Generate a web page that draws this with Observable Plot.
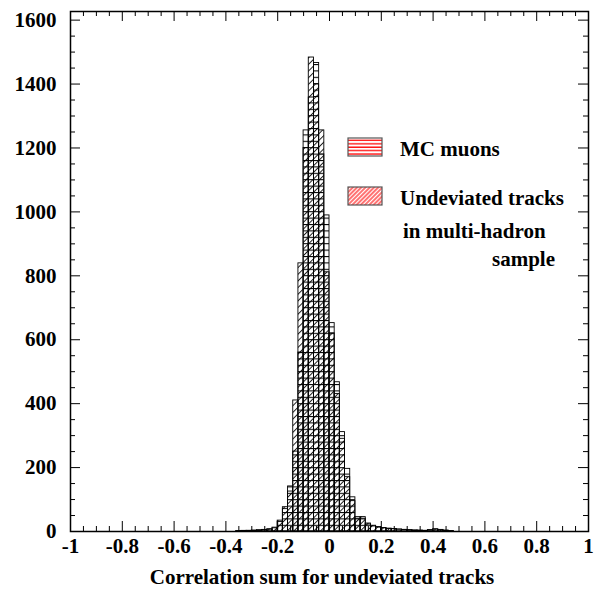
<!DOCTYPE html>
<html>
<head>
<meta charset="utf-8">
<script src="https://cdn.jsdelivr.net/npm/d3@7"></script>
<script src="https://cdn.jsdelivr.net/npm/@observablehq/plot@0.6"></script>
<style>
  html, body { margin: 0; padding: 0; background: #fff; }
  svg { display: block; }
</style>
</head>
<body>
<div id="chart"></div>
<script>
// Lower bin edges (bin width 0.02)
const binLo = [-0.36,-0.34,-0.32,-0.30,-0.28,-0.26,-0.24,-0.22,-0.20,-0.18,-0.16,-0.14,-0.12,-0.10,-0.08,-0.06,-0.04,-0.02,0.00,0.02,0.04,0.06,0.08,0.10,0.12,0.14,0.16,0.18,0.20,0.22,0.24,0.26,0.28,0.30,0.32,0.34,0.36,0.38,0.40,0.42,0.44,0.46];
const binWidth = 0.02;
// MC muons (horizontal hatching)
const muons = [1,1,2,2,3,4,6,10,30,70,141,250,560,1255,1358,1466,1180,989,652,467,311,196,107,45,40,22,16,12,10,8,7,6,5,4,3,2,2,4,6,4,2,1];
// Undeviated tracks in multi-hadron sample (diagonal hatching)
const undeviated = [1,2,2,3,4,5,7,12,34,76,125,410,839,1200,1483,1399,1255,811,620,430,290,170,95,40,45,25,18,14,11,9,8,6,5,4,3,3,2,4,7,5,3,1];

const xMajor = [-1,-0.8,-0.6,-0.4,-0.2,0,0.2,0.4,0.6,0.8,1];
const xTickLabels = ["-1","-0.8","-0.6","-0.4","-0.2","0","0.2","0.4","0.6","0.8","1"];
const xMinor = [-0.95,-0.9,-0.85,-0.75,-0.7,-0.65,-0.55,-0.5,-0.45,-0.35,-0.3,-0.25,-0.15,-0.1,-0.05,0.05,0.1,0.15,0.25,0.3,0.35,0.45,0.5,0.55,0.65,0.7,0.75,0.85,0.9,0.95];
const yMajor = [0,200,400,600,800,1000,1200,1400,1600];
const yTickLabels = ["0","200","400","600","800","1000","1200","1400","1600"];
const yMinor = [50,100,150,250,300,350,450,500,550,650,700,750,850,900,950,1050,1100,1150,1250,1300,1350,1450,1500,1550];
const xDomain = [-1, 1];
const yDomain = [0, 1627];

const xTitle = "Correlation sum for undeviated tracks";
const legendItems = ["MC muons", "Undeviated tracks"];
const legendExtra = ["in multi-hadron", "sample"];

const W = 595, H = 590;
const mL = 70, mR = 7, mT = 11, mB = 59;
const fw = W - mL - mR, fh = H - mT - mB;
const majLen = 10, minLen = 5;

const muonData = binLo.map((lo, i) => ({lo, hi: lo + binWidth, n: muons[i]}));
const undevData = binLo.map((lo, i) => ({lo, hi: lo + binWidth, n: undeviated[i]}));

const xLab = new Map(xMajor.map((v, i) => [v, xTickLabels[i]]));
const yLab = new Map(yMajor.map((v, i) => [v, yTickLabels[i]]));

const chart = Plot.plot({
  width: W, height: H,
  marginLeft: mL, marginRight: mR, marginTop: mT, marginBottom: mB,
  style: {fontFamily: "'Liberation Serif', 'Times New Roman', serif", fontWeight: "bold", fontSize: "21px", color: "#000", background: "#fff"},
  x: {domain: xDomain},
  y: {domain: yDomain},
  marks: [
    Plot.rect(undevData, {x1: "lo", x2: "hi", y1: 0, y2: "n", fill: "url(#hatchD)", stroke: "#000", strokeWidth: 0.9}),
    Plot.rect(muonData, {x1: "lo", x2: "hi", y1: 0, y2: "n", fill: "url(#hatchH)", stroke: "#000", strokeWidth: 0.9}),
    // ticks, pointing inward on all four sides
    Plot.tickX(xMajor, {x: d => d, insetTop: fh - majLen, stroke: "#000"}),
    Plot.tickX(xMinor, {x: d => d, insetTop: fh - minLen, stroke: "#000"}),
    Plot.tickX(xMajor, {x: d => d, insetBottom: fh - majLen, stroke: "#000"}),
    Plot.tickX(xMinor, {x: d => d, insetBottom: fh - minLen, stroke: "#000"}),
    Plot.tickY(yMajor, {y: d => d, insetRight: fw - majLen, stroke: "#000"}),
    Plot.tickY(yMinor, {y: d => d, insetRight: fw - minLen, stroke: "#000"}),
    Plot.tickY(yMajor, {y: d => d, insetLeft: fw - majLen, stroke: "#000"}),
    Plot.tickY(yMinor, {y: d => d, insetLeft: fw - minLen, stroke: "#000"}),
    Plot.frame({stroke: "#000", strokeWidth: 1.5}),
    Plot.axisX(xMajor, {tickSize: 0, tickPadding: 7, tickFormat: d => xLab.get(d), label: null, fontSize: 21, fontWeight: "bold"}),
    Plot.axisY(yMajor, {tickSize: 0, tickPadding: 14, tickFormat: d => yLab.get(d), label: null, fontSize: 21, fontWeight: "bold"})
  ]
});

const svg = d3.select(chart);
svg.insert("defs", ":first-child").html(`
  <pattern id="hatchH" patternUnits="userSpaceOnUse" width="8" height="6.4">
    <line x1="0" y1="0.5" x2="8" y2="0.5" stroke="#000" stroke-width="1.1"/>
  </pattern>
  <pattern id="hatchD" patternUnits="userSpaceOnUse" width="4.7" height="8" patternTransform="rotate(45)">
    <line x1="0.5" y1="0" x2="0.5" y2="8" stroke="#000" stroke-width="0.9"/>
  </pattern>
  <pattern id="legH" patternUnits="userSpaceOnUse" width="8" height="3.4">
    <line x1="0" y1="1" x2="8" y2="1" stroke="#f00" stroke-width="1.3"/>
  </pattern>
  <pattern id="legD" patternUnits="userSpaceOnUse" width="3" height="8" patternTransform="rotate(45)">
    <line x1="1" y1="0" x2="1" y2="8" stroke="#f00" stroke-width="1.1"/>
  </pattern>
`);

// x-axis title
svg.append("text")
  .attr("x", 322).attr("y", 584)
  .attr("text-anchor", "middle")
  .attr("font-size", 21).attr("font-weight", "bold")
  .attr("fill", "#000")
  .text(xTitle);

// legend
const lg = svg.append("g").attr("font-size", 21).attr("font-weight", "bold")
  .attr("fill", "#000").attr("text-anchor", "start");
const sw = [{y: 138, fill: "url(#legH)"}, {y: 187, fill: "url(#legD)"}];
sw.forEach((s, i) => {
  lg.append("rect").attr("x", 348).attr("y", s.y).attr("width", 34).attr("height", 18)
    .attr("fill", "#fff").attr("stroke", "none");
  lg.append("rect").attr("x", 348).attr("y", s.y).attr("width", 34).attr("height", 18)
    .attr("fill", s.fill).attr("stroke", "#555").attr("stroke-width", 1.2);
  lg.append("text").attr("x", 400).attr("y", s.y + 18).attr("text-anchor", "start").text(legendItems[i]);
});
lg.append("text").attr("x", 403).attr("y", 238).attr("text-anchor", "start").text(legendExtra[0]);
lg.append("text").attr("x", 492).attr("y", 266).attr("text-anchor", "start").text(legendExtra[1]);

document.getElementById("chart").appendChild(chart);
</script>
</body>
</html>
